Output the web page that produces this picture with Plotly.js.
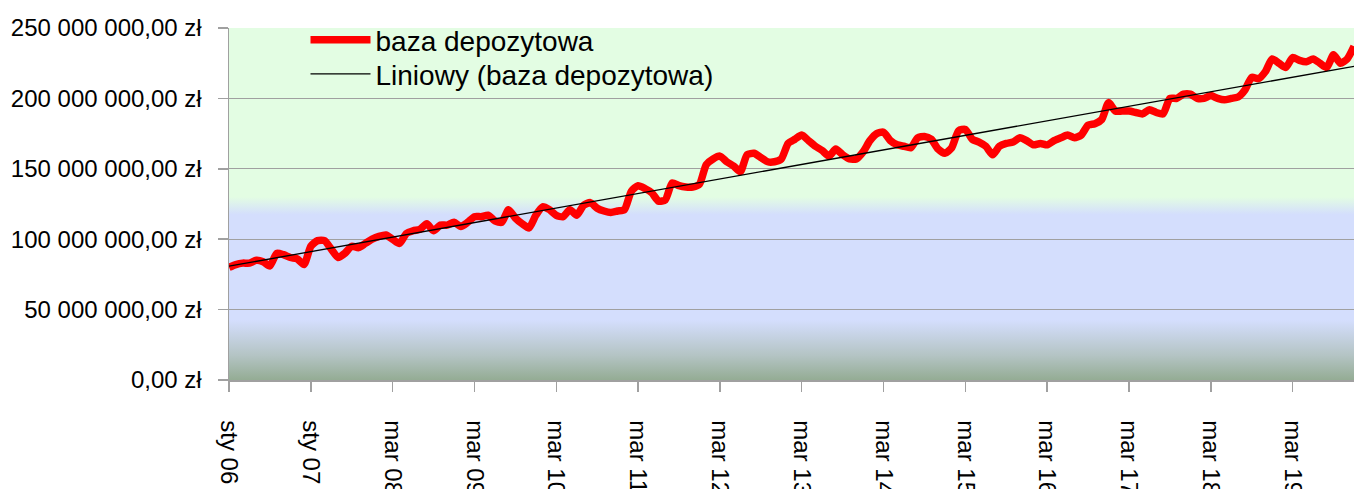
<!DOCTYPE html>
<html>
<head>
<meta charset="utf-8">
<script src="https://cdn.plot.ly/plotly-3.0.1.min.js"></script>
<style>
html,body{margin:0;padding:0;background:#fff;}
#chart{width:1354px;height:489px;}
</style>
</head>
<body>
<div id="chart"></div>
<script>
// baza depozytowa, millions of zł, monthly points
const depositMillions = [
  80, 82, 83, 83, 85, 84, 81, 90, 89, 87, 86, 82,
  95, 99, 99, 93, 87, 90, 95, 94, 97, 100, 102, 103,
  100, 97, 104, 106, 107, 111, 106, 110, 110, 112, 109, 112,
  116, 116, 117, 113, 112, 121, 115, 111, 108, 117, 123, 121,
  117, 116, 121, 117, 124, 126, 122, 120, 119, 120, 121, 134,
  138, 136, 133, 127, 128, 140, 138, 137, 137, 139, 153, 157,
  159, 155, 152, 148, 160, 161, 158, 155, 155, 157, 168, 171,
  174, 170, 166, 163, 159, 164, 160, 157, 157, 162, 170, 175,
  176, 170, 167, 166, 165, 172, 173, 171, 164, 161, 165, 177,
  178, 171, 169, 166, 160, 166, 168, 169, 172, 170, 167, 168,
  167, 170, 172, 174, 172, 174, 181, 182, 185, 197, 191, 191,
  191, 190, 189, 192, 190, 189, 200, 200, 203, 203, 200, 200,
  202, 200, 199, 200, 201, 206, 215, 214, 219, 228, 225, 222,
  229, 227, 226, 228, 225, 222, 231, 225, 228, 237
];
const tickIndex = [0, 12, 24, 36, 48, 60, 72, 84, 96, 108, 120, 132, 144, 156];
const tickLabels = ["sty 06", "sty 07", "mar 08", "mar 09", "mar 10", "mar 11", "mar 12",
  "mar 13", "mar 14", "mar 15", "mar 16", "mar 17", "mar 18", "mar 19"];
const yTicks = [0, 50000000, 100000000, 150000000, 200000000, 250000000];
const yTickLabels = ["0,00 zł", "50 000 000,00 zł", "100 000 000,00 zł",
  "150 000 000,00 zł", "200 000 000,00 zł", "250 000 000,00 zł"];

const values = depositMillions.map(v => v * 1e6);
const xs = values.map((_, i) => i);

// least-squares linear trend (Excel "Liniowy")
const n = values.length;
const mx = xs.reduce((a, b) => a + b, 0) / n;
const my = values.reduce((a, b) => a + b, 0) / n;
let sxy = 0, sxx = 0;
for (let i = 0; i < n; i++) { sxy += (xs[i] - mx) * (values[i] - my); sxx += (xs[i] - mx) ** 2; }
const slope = sxy / sxx, icpt = my - slope * mx;
const trend = xs.map(x => icpt + slope * x);

const bgSvg = '<svg xmlns="http://www.w3.org/2000/svg" width="100" height="100" preserveAspectRatio="none">' +
  '<defs><linearGradient id="g" x1="0" y1="0" x2="0" y2="1">' +
  '<stop offset="0" stop-color="#e3fde3"/>' +
  '<stop offset="0.48" stop-color="#e3fde3"/>' +
  '<stop offset="0.53" stop-color="#d4defd"/>' +
  '<stop offset="0.83" stop-color="#d4defd"/>' +
  '<stop offset="0.93" stop-color="#b4c4c4"/>' +
  '<stop offset="1" stop-color="#94ac94"/>' +
  '</linearGradient></defs><rect width="100" height="100" fill="url(#g)"/></svg>';
const bgUri = 'data:image/svg+xml;base64,' + btoa(bgSvg);

const font = "'Liberation Sans', Arial, sans-serif";

const data = [
  {
    x: xs, y: values, type: 'scatter', mode: 'lines', name: 'baza depozytowa',
    line: { color: '#ff0000', width: 7.5, shape: 'spline', smoothing: 0.6 },
    legend: 'legend'
  },
  {
    x: xs, y: trend, type: 'scatter', mode: 'lines', name: 'Liniowy (baza depozytowa)',
    line: { color: '#000000', width: 1.3 },
    legend: 'legend2'
  }
];

const legendBase = {
  xanchor: 'left', yanchor: 'middle',
  bgcolor: 'rgba(0,0,0,0)', font: { family: font, size: 28, color: '#000' },
  itemwidth: 60
};

const layout = {
  width: 1354, height: 489,
  margin: { l: 229, r: 0, t: 28, b: 109 },
  paper_bgcolor: '#ffffff',
  plot_bgcolor: 'rgba(0,0,0,0)',
  font: { family: font, color: '#000', size: 24 },
  showlegend: true,
  legend: Object.assign({}, legendBase, { x: 0.068, y: 0.966 }),
  legend2: Object.assign({}, legendBase, { x: 0.068, y: 0.869 }),
  images: [{
    source: bgUri, xref: 'paper', yref: 'paper', x: 0, y: 1, sizex: 1, sizey: 1,
    xanchor: 'left', yanchor: 'top', sizing: 'stretch', layer: 'below'
  }],
  xaxis: {
    type: 'linear', range: [0, n - 1],
    tickmode: 'array', tickvals: tickIndex, ticktext: tickLabels,
    tickangle: 90, ticks: 'outside', ticklen: 10, tickcolor: '#a0a0a0', tickwidth: 1.5,
    showgrid: false, zeroline: false, showline: true, linecolor: '#a0a0a0', linewidth: 1.5,
    tickfont: { family: font, size: 24, color: '#000' }, ticklabelstandoff: 24
  },
  yaxis: {
    range: [0, 250000000],
    tickmode: 'array', tickvals: yTicks, ticktext: yTickLabels,
    ticks: 'outside', ticklen: 10, tickcolor: '#a0a0a0', tickwidth: 1.5,
    showgrid: true, gridcolor: '#a0a0a0', gridwidth: 1.2,
    zeroline: false, showline: true, linecolor: '#a0a0a0', linewidth: 1.5,
    tickfont: { family: font, size: 24, color: '#000' }, ticklabelstandoff: 11
  }
};

Plotly.newPlot('chart', data, layout, { staticPlot: true, displayModeBar: false });
</script>
</body>
</html>
